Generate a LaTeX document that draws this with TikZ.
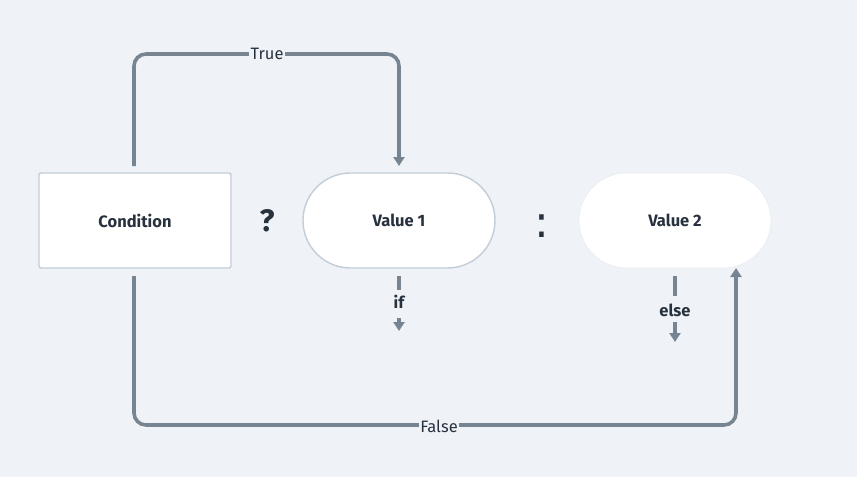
\documentclass[tikz,border=0pt]{standalone}
\usepackage{fontspec}
\setmainfont{Fira Sans}
\newfontfamily\colonfont{DejaVu Sans}
\usetikzlibrary{shapes.misc,arrows.meta}
\definecolor{bg}{HTML}{EFF3F7}
\definecolor{edge}{HTML}{778593}
\definecolor{txt}{HTML}{28323F}
\definecolor{bord}{HTML}{C3CDD8}
\begin{document}
\begin{tikzpicture}[x=1pt,y=-1pt,
  box/.style={draw=bord,line width=1.4pt,fill=white,rounded corners=2pt,minimum width=192pt,minimum height=95pt,inner sep=0pt,text=txt,font=\bfseries\fontsize{16.5}{19}\selectfont},
  pill/.style={rounded rectangle,fill=white,minimum width=192pt,minimum height=95pt,inner sep=0pt,text=txt,font=\bfseries\fontsize{16.5}{19}\selectfont},
  conn/.style={draw=edge,line width=3.6pt,rounded corners=12pt},
  tip/.style={-{Triangle[width=11pt,length=9pt]}},
  lbl/.style={fill=bg,text=txt,inner sep=1.5pt,font=\fontsize{16.5}{19}\selectfont},
  elbl/.style={text=txt,inner sep=0pt,font=\bfseries\fontsize{16.5}{19}\selectfont},
  op/.style={text=txt,inner sep=0pt,font=\bfseries\fontsize{31}{34}\selectfont}]
\fill[bg] (0,0) rectangle (857,477);
\useasboundingbox (0,0) rectangle (857,477);
\node[box] (cond) at (135,220.5) {Condition};
\node[pill,draw=bord,line width=1.4pt] (v1) at (399,220.5) {Value 1};
\node[pill,draw=bord!40,line width=0.6pt] (v2) at (675,220.5) {Value 2};
\node[op] (q) at (267,221) {?};
\node[op,font=\colonfont\fontsize{44}{48}\selectfont] (c) at (542,226) {:};
% True connector
\coordinate (ts) at (134,166);
\coordinate (te) at (399,166);
\draw[conn,tip] (ts) -- (134,54) -- (399,54) -- (te);
\node[lbl] (tl) at (267,54) {True};
% False connector
\coordinate (fs) at (134,276);
\coordinate (fe) at (736,268);
\draw[conn,tip] (fs) -- (134,425) -- (736,425) -- (fe);
\node[lbl] (fl) at (439,426) {False};
% if
\node[elbl] (ifl) at (399,302) {if};
\coordinate (if1) at (399,276);
\coordinate (if2) at (399,290);
\coordinate (if3) at (399,318);
\coordinate (if4) at (399,331);
\draw[draw=edge,line width=3.6pt] (if1) -- (if2);
\draw[draw=edge,line width=3.6pt,tip] (if3) -- (if4);
% else
\node[elbl] (el) at (675,310) {else};
\coordinate (e1) at (675,276);
\coordinate (e2) at (675,296);
\coordinate (e3) at (675,322);
\coordinate (e4) at (675,342);
\draw[draw=edge,line width=3.6pt] (e1) -- (e2);
\draw[draw=edge,line width=3.6pt,tip] (e3) -- (e4);
\end{tikzpicture}
\end{document}
